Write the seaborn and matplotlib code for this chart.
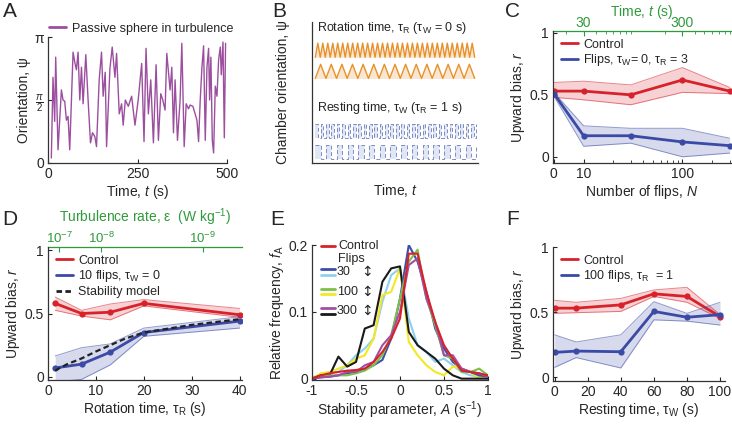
import numpy as np
import pandas as pd
import seaborn as sns
from matplotlib import pyplot as plt
from matplotlib.lines import Line2D

sns.set_style("ticks")
plt.rcParams["font.family"] = ["Liberation Sans", "DejaVu Sans"]
plt.rcParams["mathtext.fontset"] = "custom"
plt.rcParams["mathtext.rm"] = "Liberation Sans"
plt.rcParams["mathtext.it"] = "Liberation Sans:italic"
plt.rcParams["font.size"] = 10
plt.rcParams["axes.edgecolor"] = "#333333"
plt.rcParams["axes.linewidth"] = 0.9

RED = "#d8222b"
BLUE = "#3a4aa5"
GREEN = "#2f9a3c"
PURPLE = "#9c4f9f"
ORANGE = "#e8902a"
SQBLUE = "#7a8cc8"

# ---- A: passive sphere orientation (psi / pi) ----
a_time = [9.3, 14, 18.7, 21.5, 28, 37.4, 42, 46.7, 51.4, 56, 60.7, 70, 74.8, 79.4, 84, 88.8,
          93.5, 98, 105.6, 112, 118.7, 124.3, 130.8, 135.5, 143, 149.5, 154, 159.8, 163.6,
          173, 179.4, 187, 191.6, 199, 205.6, 210, 216, 224.3, 233.6, 243, 252.3, 261.7,
          268.2, 273.8, 280.4, 287, 294.4, 301.9, 308.4, 315, 320.6, 327, 331.8, 341, 345.8,
          350.5, 355, 361.7, 369, 373.8, 380.4, 386, 392.5, 397, 404.7, 416, 420.6, 425.2,
          430, 434.6, 439.3, 444, 448.6, 451.4, 455, 458.9, 462.6, 467.3, 472, 476.6, 481.3,
          484, 488.8, 492.5, 496]
a_psi = [0.04, 0.68, 0.33, 0.84, 0.105, 0.58, 0.5, 0.49, 0.34, 0.37, 0.105, 0.88, 0.80, 0.74,
         0.88, 0.5, 0.76, 0.47, 0.86, 0.5, 0.16, 0.24, 0.21, 0.13, 0.66, 0.88, 0.53, 0.72,
         0.13, 0.75, 0.92, 0.68, 0.87, 0.39, 0.47, 0.30, 0.5, 0.45, 0.53, 0.30, 0.51, 0.79,
         0.17, 0.91, 0.39, 0.66, 0.16, 0.78, 0.18, 0.55, 0.5, 0.42, 0.87, 0.58, 0.76, 0.24,
         0.66, 0.18, 0.5, 0.95, 0.13, 0.47, 0.43, 0.46, 0.45, 0.34, 0.17, 0.5, 0.76, 0.93,
         0.18, 0.76, 0.91, 0.5, 0.84, 0.18, 0.08, 0.61, 0.53, 0.82, 0.92, 0.70, 0.96, 0.20,
         0.95]

# ---- B: schematic cycle counts ----
rot_cycles = [32, 15]
rest_cycles = [30, 15]

# ---- C: upward bias vs number of flips ----
c_flips = [0, 10, 30, 100, 300]
c_ctrl = [0.53, 0.53, 0.50, 0.62, 0.53]
c_ctrl_hi = [0.60, 0.61, 0.58, 0.72, 0.56]
c_ctrl_lo = [0.48, 0.46, 0.42, 0.52, 0.51]
c_flip = [0.51, 0.17, 0.17, 0.12, 0.09]
c_flip_hi = [0.52, 0.25, 0.23, 0.23, 0.15]
c_flip_lo = [0.49, 0.085, 0.11, 0.0, 0.03]

# ---- D: upward bias vs rotation time ----
d_tau = [1.5, 7, 13, 20, 40]
d_ctrl = [0.58, 0.50, 0.51, 0.58, 0.49]
d_ctrl_hi = [0.63, 0.525, 0.575, 0.61, 0.54]
d_ctrl_lo = [0.525, 0.48, 0.45, 0.56, 0.47]
d_flip = [0.07, 0.10, 0.195, 0.35, 0.44]
d_flip_hi = [0.165, 0.23, 0.26, 0.385, 0.475]
d_flip_lo = [-0.04, -0.02, 0.094, 0.32, 0.385]
d_model_tau = [1.5, 4, 7, 10, 13, 16, 20, 30, 40]
d_model = [0.05, 0.10, 0.145, 0.20, 0.25, 0.30, 0.35, 0.41, 0.455]
d_eps_pos = [2.3, 11.1, 32.3]
d_eps_lab = ["$10^{-7}$", "$10^{-8}$", "$10^{-9}$"]

# ---- E: histograms of stability parameter ----
e_A = [-1, -0.9, -0.8, -0.7, -0.6, -0.5, -0.4, -0.3, -0.2, -0.1, 0,
       0.1, 0.2, 0.3, 0.4, 0.5, 0.6, 0.7, 0.8, 0.9, 1]
e_series = {
    "30a": [0, 0.002, 0.003, 0.005, 0.008, 0.01, 0.015, 0.02, 0.028, 0.06, 0.12,
            0.2, 0.175, 0.13, 0.075, 0.045, 0.025, 0.015, 0.01, 0.005, 0.003],
    "30b": [0.002, 0.005, 0.01, 0.01, 0.02, 0.035, 0.045, 0.06, 0.115, 0.155, 0.165,
            0.09, 0.05, 0.04, 0.025, 0.03, 0.02, 0.01, 0.005, 0.003, 0],
    "100a": [0, 0.003, 0.005, 0.005, 0.005, 0.008, 0.012, 0.02, 0.035, 0.065, 0.12,
             0.175, 0.193, 0.12, 0.08, 0.035, 0.03, 0.01, 0.01, 0.015, 0.005],
    "100b": [0, 0.008, 0.01, 0.015, 0.02, 0.03, 0.035, 0.06, 0.125, 0.13, 0.165,
             0.055, 0.035, 0.02, 0.01, 0.005, 0.018, 0.015, 0.01, 0.0, 0.005],
    "300a": [0, 0.002, 0.003, 0.005, 0.01, 0.01, 0.02, 0.025, 0.05, 0.065, 0.1,
             0.17, 0.18, 0.12, 0.085, 0.035, 0.035, 0.015, 0.01, 0.008, 0.003],
    "300b": [0, 0.005, 0.005, 0.033, 0.018, 0.025, 0.075, 0.08, 0.145, 0.165, 0.168,
             0.07, 0.05, 0.04, 0.03, 0.015, 0.005, 0.0, 0.0, 0.0, 0.0],
    "Control": [0, 0.005, 0.008, 0.01, 0.012, 0.013, 0.015, 0.025, 0.04, 0.06, 0.09,
                0.187, 0.187, 0.13, 0.085, 0.05, 0.03, 0.012, 0.01, 0.008, 0.005],
}
e_colors = {"30a": "#3d4fa8", "30b": "#8fd0ee", "100a": "#7cbf4a", "100b": "#f2e824",
            "300a": "#a24fa3", "300b": "#1a1a1a", "Control": RED}

# ---- F: upward bias vs resting time ----
f_tau = [0, 13, 40, 60, 80, 100]
f_ctrl = [0.53, 0.53, 0.555, 0.64, 0.62, 0.465]
f_ctrl_hi = [0.59, 0.575, 0.605, 0.67, 0.69, 0.48]
f_ctrl_lo = [0.49, 0.495, 0.505, 0.62, 0.575, 0.45]
f_flip = [0.19, 0.20, 0.195, 0.505, 0.46, 0.48]
f_flip_hi = [0.325, 0.27, 0.325, 0.58, 0.49, 0.575]
f_flip_lo = [0.075, 0.15, 0.07, 0.44, 0.43, 0.40]

W, H = 732, 425
fig = plt.figure(figsize=(7.32, 4.25), dpi=100)


def box(l, t, r, b):
    return [l / W, 1 - b / H, (r - l) / W, (b - t) / H]


def style(ax):
    sns.despine(ax=ax)
    ax.tick_params(direction="in", length=3, width=0.8, labelsize=10, pad=3)


def band_line(ax, x, y, lo, hi, color, label):
    ax.fill_between(x, lo, hi, color=color, alpha=0.2, lw=0)
    ax.plot(x, lo, color=color, lw=0.7, alpha=0.55)
    ax.plot(x, hi, color=color, lw=0.7, alpha=0.55)
    df = pd.DataFrame({"x": x, "y": y})
    sns.lineplot(data=df, x="x", y="y", color=color, lw=2, marker="o", markersize=4.5,
                 markeredgewidth=0, ax=ax, label=label, legend=False)


def leg(ax, entries, **kw):
    handles = [Line2D([], [], color=c, ls=ls, lw=2) for c, ls, _ in entries]
    ax.legend(handles, [t for _, _, t in entries], frameon=False, fontsize=9,
              handlelength=1.4, handletextpad=0.4, borderaxespad=0.2, labelspacing=0.15, **kw)


# ---------------- A ----------------
axA = fig.add_axes(box(48, 37, 227, 163))
dfA = pd.DataFrame({"t": a_time, "psi": np.array(a_psi) * np.pi})
sns.lineplot(data=dfA, x="t", y="psi", color=PURPLE, lw=1.0, ax=axA)
axA.set_xlim(0, 500)
axA.set_ylim(0, np.pi)
axA.set_xticks([0, 250, 500])
axA.set_yticks([0, np.pi / 2, np.pi], ["0", r"$\frac{\pi}{2}$", "π"])
axA.set_xlabel("Time, $t$ (s)", labelpad=1)
axA.set_ylabel("Orientation, ψ", labelpad=2)
style(axA)
axA.legend([Line2D([], [], color=PURPLE, lw=2)], ["Passive sphere in turbulence"],
           loc="lower left", bbox_to_anchor=(-0.02, 0.98), frameon=False, fontsize=9,
           handlelength=1.3, handletextpad=0.5, borderaxespad=0)

# ---------------- B ----------------
axB = fig.add_axes(box(312, 22, 478, 163))
axB.set_xlim(0, 1)
axB.set_ylim(0, 1)
for n, (lo, hi) in zip(rot_cycles, [(0.75, 0.85), (0.60, 0.70)]):
    xs = np.linspace(0.02, 0.98, 2 * n + 1)
    ys = np.where(np.arange(2 * n + 1) % 2 == 0, lo, hi)
    axB.fill_between(xs, lo, ys, color=ORANGE, alpha=0.22, lw=0)
    axB.plot(xs, ys, color=ORANGE, lw=1.0)
for n, (lo, hi) in zip(rest_cycles, [(0.18, 0.28), (0.03, 0.13)]):
    xs = np.linspace(0.02, 0.99, 2 * n + 1)
    ys = np.where(np.arange(2 * n + 1) % 2 == 0, hi, lo)
    axB.fill_between(xs, lo, ys, step="post", color="#d5dcf1", alpha=0.7, lw=0)
    axB.step(xs, ys, where="post", color=SQBLUE, lw=0.7, ls=(0, (4, 2.5)))
axB.text(0.03, 0.955, "Rotation time, τ$_\\mathrm{R}$ (τ$_\\mathrm{W}$ = 0 s)", fontsize=9,
         va="center")
axB.text(0.03, 0.39, "Resting time, τ$_\\mathrm{W}$ (τ$_\\mathrm{R}$ = 1 s)", fontsize=9,
         va="center")
axB.set_xticks([])
axB.set_yticks([])
axB.set_xlabel("Time, $t$", labelpad=14)
axB.set_ylabel("Chamber orientation, ψ", labelpad=16)
sns.despine(ax=axB)

# ---------------- C ----------------
axC = fig.add_axes(box(553, 31, 731, 163))
c_pos = np.where(np.array(c_flips) == 0, 5, c_flips)
band_line(axC, c_pos, c_ctrl, c_ctrl_lo, c_ctrl_hi, RED, "Control")
band_line(axC, c_pos, c_flip, c_flip_lo, c_flip_hi, BLUE, "Flips")
axC.set_xscale("log")
axC.set_xlim(4.9, 310)
axC.set_ylim(-0.05, 1.015)
axC.set_xticks([5, 10, 100], ["0", "10", "100"])
axC.set_xticks([20, 30, 40, 50, 60, 70, 80, 90, 200, 300], minor=True)
axC.set_yticks([0, 0.5, 1], ["0", "0.5", "1"])
axC.tick_params(which="minor", direction="in", length=2, labelbottom=False)
axC.set_xlabel("Number of flips, $N$", labelpad=1)
axC.set_ylabel("Upward bias, $r$", labelpad=2)
style(axC)
secC = axC.secondary_xaxis("top", functions=(lambda n: 3 * n, lambda t: t / 3))
secC.set_xticks([30, 300], ["30", "300"])
secC.tick_params(which="both", direction="in", colors=GREEN, labelcolor=GREEN, labelsize=10,
                 pad=1)
secC.tick_params(which="minor", length=2)
secC.spines["top"].set_color(GREEN)
secC.set_xlabel("Time, $t$ (s)", color=GREEN, labelpad=0)
leg(axC, [(RED, "-", "Control"),
          (BLUE, "-", "Flips, τ$_\\mathrm{W}$= 0, τ$_\\mathrm{R}$ = 3")], loc="upper left")

# ---------------- D ----------------
axD = fig.add_axes(box(48, 247, 242, 380))
band_line(axD, d_tau, d_ctrl, d_ctrl_lo, d_ctrl_hi, RED, "Control")
band_line(axD, d_tau, d_flip, d_flip_lo, d_flip_hi, BLUE, "10 flips")
sns.lineplot(x=d_model_tau, y=d_model, color="#222222", lw=1.6, ls=(0, (2.5, 1.5)), ax=axD)
axD.set_xlim(0, 40.5)
axD.set_ylim(-0.025, 1.025)
axD.set_xticks([0, 10, 20, 30, 40])
axD.set_yticks([0, 0.5, 1], ["0", "0.5", "1"])
axD.set_xlabel("Rotation time, τ$_\\mathrm{R}$ (s)", labelpad=1)
axD.set_ylabel("Upward bias, $r$", labelpad=2)
style(axD)
secD = axD.secondary_xaxis("top")
secD.set_xticks(d_eps_pos, d_eps_lab)
secD.tick_params(direction="in", colors=GREEN, labelcolor=GREEN, labelsize=9.5, pad=1)
secD.spines["top"].set_color(GREEN)
secD.set_xlabel("Turbulence rate, ε  (W kg$^{-1}$)", color=GREEN, labelpad=6, fontsize=10)
leg(axD, [(RED, "-", "Control"), (BLUE, "-", "10 flips, τ$_\\mathrm{W}$ = 0"),
          ("#222222", (0, (2, 1.2)), "Stability model")], loc="upper left")

# ---------------- E ----------------
axE = fig.add_axes(box(312, 245, 488, 380))
dfE = pd.DataFrame(e_series)
dfE["A"] = e_A
for key in ["30b", "100b", "300b", "30a", "100a", "300a", "Control"]:
    sns.lineplot(data=dfE, x="A", y=key, color=e_colors[key], lw=1.5, ax=axE)
axE.set_xlim(-1, 1)
axE.set_ylim(-0.002, 0.2)
axE.set_xticks([-1, -0.5, 0, 0.5, 1], ["-1", "-0.5", "0", "0.5", "1"])
axE.set_yticks([0, 0.1, 0.2], ["0", "0.1", "0.2"])
axE.set_xlabel("Stability parameter, $A$ (s$^{-1}$)", labelpad=1)
axE.set_ylabel("Relative frequency, $f_\\mathrm{A}$", labelpad=2)
style(axE)
tr = axE.transAxes
axE.plot([0.05, 0.13], [0.995, 0.995], color=RED, lw=2, transform=tr, clip_on=False)
axE.text(0.15, 0.995, "Control", fontsize=9, va="center", transform=tr)
axE.text(0.15, 0.895, "Flips", fontsize=9, va="center", transform=tr)
for yy, ka, kb, lab in [(0.80, "30a", "30b", "30"), (0.655, "100a", "100b", "100"),
                        (0.51, "300a", "300b", "300")]:
    axE.plot([0.05, 0.13], [yy + 0.02, yy + 0.02], color=e_colors[ka], lw=2, transform=tr)
    axE.plot([0.05, 0.13], [yy - 0.02, yy - 0.02], color=e_colors[kb], lw=2, transform=tr)
    axE.text(0.14, yy, lab, fontsize=9, va="center", transform=tr)
    axE.text(0.315, yy, "↕", fontsize=10, va="center", ha="center", transform=tr,
             family="DejaVu Sans")

# ---------------- F ----------------
axF = fig.add_axes(box(553, 247, 725, 381))
band_line(axF, f_tau, f_ctrl, f_ctrl_lo, f_ctrl_hi, RED, "Control")
band_line(axF, f_tau, f_flip, f_flip_lo, f_flip_hi, BLUE, "100 flips")
axF.set_xlim(-1, 103)
axF.set_ylim(-0.03, 1.0)
axF.set_xticks([0, 20, 40, 60, 80, 100])
axF.set_yticks([0, 0.5, 1], ["0", "0.5", "1"])
axF.set_xlabel("Resting time, τ$_\\mathrm{W}$ (s)", labelpad=1)
axF.set_ylabel("Upward bias, $r$", labelpad=2)
style(axF)
leg(axF, [(RED, "-", "Control"), (BLUE, "-", "100 flips, τ$_\\mathrm{R}$  = 1")],
    loc="upper left")

# panel letters
for lab, x, y in [("A", 3, 2), ("B", 272, 2), ("C", 505, 2),
                  ("D", 2, 210), ("E", 270, 210), ("F", 506, 210)]:
    fig.text(x / W, 1 - y / H, lab, fontsize=15, va="top", ha="left")

fig.savefig("out.png", dpi=100)
